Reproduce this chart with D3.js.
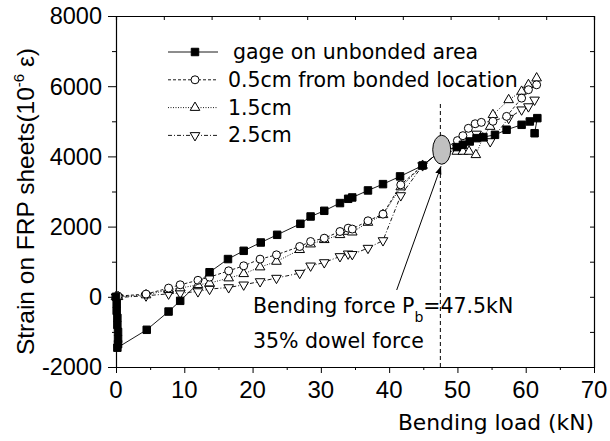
<!DOCTYPE html>
<html>
<head>
<meta charset="utf-8">
<script src="https://cdn.jsdelivr.net/npm/d3@7"></script>
<style>
  body { margin: 0; background: #fff; }
  text { font-family: "Liberation Sans", Arial, sans-serif; fill: #000; }
  .wide { font-family: "DejaVu Sans", Verdana, sans-serif; }
</style>
</head>
<body>
<svg id="chart" width="610" height="441"></svg>
<script>
// gage on unbonded area (filled squares)
const loadGage = [0, 0.1, 0.1, 0.2, 0.2, 0.3, 0.3, 0.3, 0.2, 4.5, 7.7, 9.4, 13.7, 16.4, 18.7, 21.2, 23.6, 27.0, 28.5, 30.5, 32.8, 34.0, 34.6, 36.9, 39.1, 41.6, 44.9, 47.5, 49.9, 50.8, 51.8, 52.8, 53.8, 55.5, 57.2, 59.4, 60.6, 61.7, 61.3];
const strainGage = [0, -200, -400, -600, -800, -1000, -1200, -1350, -1450, -940, -420, -115, 700, 1075, 1310, 1547, 1766, 2080, 2288, 2450, 2670, 2792, 2830, 3030, 3210, 3430, 3740, 4150, 4265, 4330, 4425, 4520, 4550, 4615, 4760, 4900, 4995, 5090, 4660];

// 0.5cm from bonded location (open circles)
const load05 = [0, 0.3, 4.4, 7.7, 9.4, 12.0, 13.7, 16.5, 18.7, 21.1, 23.5, 26.9, 28.5, 30.5, 32.8, 34.0, 34.6, 36.9, 39.1, 41.7, 44.9, 47.5, 50.0, 50.8, 51.6, 52.6, 53.5, 55.2, 57.2, 59.4, 60.4, 61.6];
const strain05 = [0, 20, 77, 248, 342, 470, 560, 740, 883, 1073, 1196, 1433, 1575, 1670, 1860, 1955, 1930, 2165, 2355, 3190, 3740, 4150, 4450, 4590, 4800, 4930, 4970, 5000, 5140, 5660, 5900, 6040];

// 1.5cm (open triangles up)
const load15 = [0, 0.3, 4.4, 7.7, 9.4, 12.0, 13.7, 16.5, 18.7, 21.1, 23.5, 26.9, 28.5, 30.5, 32.8, 34.0, 34.6, 36.9, 39.1, 41.7, 44.9, 47.5, 49.9, 50.8, 51.7, 52.7, 53.7, 54.8, 55.2, 57.5, 59.4, 60.4, 61.6];
const strain15 = [0, 0, 50, 200, 248, 342, 390, 533, 655, 846, 1006, 1340, 1500, 1624, 1766, 1860, 1840, 2117, 2336, 3125, 3740, 4150, 4140, 4140, 4140, 4045, 4520, 4850, 5185, 5610, 5850, 6040, 6230];

// 2.5cm (open triangles down)
const load25 = [0, 0.3, 4.4, 7.7, 9.4, 12.0, 13.7, 16.5, 18.7, 21.1, 23.5, 26.9, 28.5, 30.5, 32.8, 34.0, 34.6, 36.9, 39.1, 41.7, 44.9, 47.5, 50.0, 51.0, 52.8, 54.8, 57.5, 59.4, 60.4, 61.3];
const strain25 = [0, -20, 30, 85, 105, 150, 220, 265, 342, 436, 533, 675, 883, 977, 1150, 1225, 1210, 1387, 1604, 2886, 3740, 4150, 4250, 4350, 4640, 4425, 5090, 5330, 5420, 5610];

const seriesNames = ["gage on unbonded area", "0.5cm from bonded location", "1.5cm", "2.5cm"];
const xTicks = [0, 10, 20, 30, 40, 50, 60, 70];
const yTicks = [-2000, 0, 2000, 4000, 6000, 8000];
const bendingForce = 47.5;

const series = [
  { name: seriesNames[0], xs: loadGage, ys: strainGage, dash: null, symbol: "square" },
  { name: seriesNames[1], xs: load05, ys: strain05, dash: "3,2", symbol: "circle" },
  { name: seriesNames[2], xs: load15, ys: strain15, dash: "1,1.5", symbol: "up" },
  { name: seriesNames[3], xs: load25, ys: strain25, dash: "4,2,1,2", symbol: "down" }
];

const svg = d3.select("#chart");
const margin = { left: 116, right: 16, top: 16, bottom: 74 };
const W = 610, H = 441;

const x = d3.scaleLinear().domain([0, 70]).range([margin.left, W - margin.right]);
const y = d3.scaleLinear().domain([-2000, 8000]).range([H - margin.bottom, margin.top]);

// axes
const gx = svg.append("g").attr("transform", `translate(0,${y(-2000)})`);
gx.call(d3.axisBottom(x).tickValues(d3.range(0, 71, 5)).tickSize(0).tickFormat(""));
gx.selectAll(".tick line").remove();
gx.selectAll(".tick").append("line")
  .attr("y2", d => (d % 10 === 0 ? 6 : 3)).attr("stroke", "#000");
gx.append("g").selectAll("text").data(xTicks).join("text")
  .attr("x", d => x(d)).attr("y", 31)
  .attr("text-anchor", "middle").attr("font-size", 24).text(d => d);

const gy = svg.append("g").attr("transform", `translate(${x(0)},0)`);
gy.call(d3.axisLeft(y).tickValues(d3.range(-2000, 8001, 1000)).tickSize(0).tickFormat(""));
gy.selectAll(".tick line").remove();
gy.selectAll(".tick").append("line")
  .attr("x2", d => (d % 2000 === 0 ? -8 : -4)).attr("stroke", "#000");
gy.append("g").selectAll("text").data(yTicks).join("text")
  .attr("x", -14).attr("y", d => y(d)).attr("dy", "0.36em")
  .attr("text-anchor", "end").attr("font-size", 23.5).text(d => d);

const gt = svg.append("g").attr("transform", `translate(0,${y(8000)})`);
gt.call(d3.axisBottom(x).tickValues(d3.range(0, 71, 7)).tickSize(4).tickFormat(""));
const gr = svg.append("g").attr("transform", `translate(${x(70)},0)`);
gr.call(d3.axisLeft(y).tickValues(d3.range(-2000, 8001, 1000)).tickSize(4).tickFormat(""));
svg.selectAll(".domain").attr("stroke", "#000").attr("stroke-width", 1.2);
svg.selectAll(".tick line").attr("stroke", "#000");

// axis titles
svg.append("text").attr("class", "wide").attr("x", x(70)).attr("y", 430)
  .attr("text-anchor", "end").attr("font-size", 21.8).text("Bending load (kN)");

const yt = svg.append("text")
  .attr("transform", `translate(34,${(y(-2000) + y(8000)) / 2 + 10}) rotate(-90)`)
  .attr("text-anchor", "middle").attr("font-size", 24.5);
yt.append("tspan").text("Strain on FRP sheets(10");
yt.append("tspan").attr("dy", -10).attr("font-size", 15).text("-6");
yt.append("tspan").attr("dy", 10).text(" \u03b5)");

// bending force marker line
svg.append("line")
  .attr("x1", x(bendingForce)).attr("x2", x(bendingForce))
  .attr("y1", y(-2000)).attr("y2", y(5500))
  .attr("stroke", "#000").attr("stroke-dasharray", "4,3");

const sym = {
  square: d3.symbol().type(d3.symbolSquare).size(56),
  circle: d3.symbol().type(d3.symbolCircle).size(50),
  up: d3.symbol().type(d3.symbolTriangle).size(40)
};

function drawMarker(g, kind, cx, cy) {
  if (kind === "down") {
    g.append("path").attr("d", sym.up())
      .attr("transform", `translate(${cx},${cy}) rotate(180)`)
      .attr("fill", "#fff").attr("stroke", "#000");
  } else {
    g.append("path").attr("d", sym[kind]())
      .attr("transform", `translate(${cx},${cy})`)
      .attr("fill", kind === "square" ? "#000" : "#fff").attr("stroke", "#000");
  }
}

const line = d3.line().x(d => x(d[0])).y(d => y(d[1]));

// draw series back to front
series.slice().reverse().forEach(s => {
  const pts = s.xs.map((v, i) => [v, s.ys[i]]);
  const g = svg.append("g");
  g.append("path").datum(pts).attr("d", line)
    .attr("fill", "none").attr("stroke", "#000").attr("stroke-width", 0.9)
    .attr("stroke-dasharray", s.dash);
  pts.forEach(p => drawMarker(g, s.symbol, x(p[0]), y(p[1])));
});

// gray ellipse at the bending force point
svg.append("ellipse")
  .attr("cx", x(47.7)).attr("cy", y(4190))
  .attr("rx", 9).attr("ry", 14.5)
  .attr("fill", "#c0c0c0").attr("stroke", "#000");

// legend
const legend = svg.append("g");
series.forEach((s, i) => {
  const cy = 52 + i * 27.8;
  legend.append("line").attr("x1", 168).attr("x2", 218).attr("y1", cy).attr("y2", cy)
    .attr("stroke", "#000").attr("stroke-width", 0.9).attr("stroke-dasharray", s.dash);
  drawMarker(legend, s.symbol, 195, cy);
  legend.append("text").attr("class", "wide").attr("x", i === 0 ? 233 : 228).attr("y", cy + 7)
    .attr("font-size", 20.5).text(s.name);
});

// annotation
svg.append("defs").append("marker")
  .attr("id", "arrow").attr("viewBox", "0 0 10 10")
  .attr("refX", 10).attr("refY", 5)
  .attr("markerWidth", 8).attr("markerHeight", 8).attr("orient", "auto")
  .append("path").attr("d", "M0,1L10,5L0,9Z").attr("fill", "#000");

svg.append("line")
  .attr("x1", 396.7).attr("y1", 290).attr("x2", x(47.6)).attr("y2", y(3720))
  .attr("stroke", "#000").attr("marker-end", "url(#arrow)");

const ann = svg.append("text").attr("class", "wide").attr("x", 253).attr("y", 313).attr("font-size", 20.5);
ann.append("tspan").text("Bending force P");
ann.append("tspan").attr("dy", 9).attr("font-size", 14).text("b");
ann.append("tspan").attr("dy", -9).text("=47.5kN");
svg.append("text").attr("class", "wide").attr("x", 253).attr("y", 348).attr("font-size", 20.5).text("35% dowel force");
</script>
</body>
</html>
